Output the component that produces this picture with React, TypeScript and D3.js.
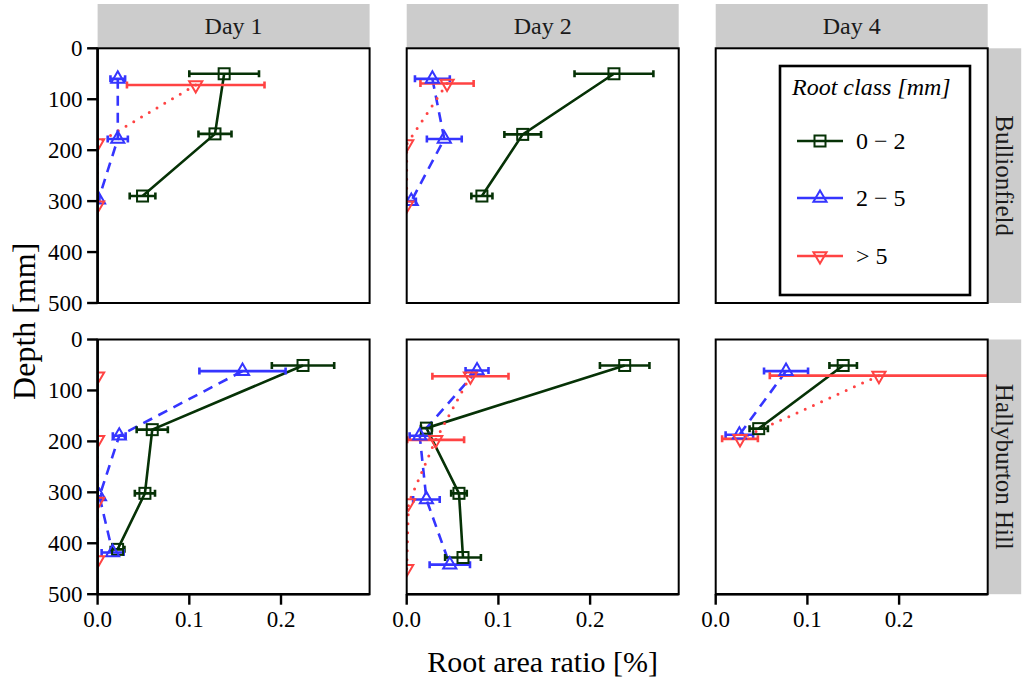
import React from "react";
import * as d3 from "d3";

const sites = ["Bullionfield", "Hallyburton Hill"];
const days = ["Day 1", "Day 2", "Day 4"];
const rootClasses = ["0 − 2", "2 − 5", "> 5"];
const xTicks = [0, 0.1, 0.2];
const yTicks = [0, 100, 200, 300, 400, 500];

// each row: [depth (mm), root area ratio (%), half-width of error bar]
type Obs = [number, number, number];

const bullionfieldDay1Fine: Obs[] = [[50, 0.138, 0.038], [168, 0.128, 0.018], [290, 0.049, 0.014]];
const bullionfieldDay1Medium: Obs[] = [[60, 0.022, 0.008], [178, 0.022, 0.011], [297, 0.001, 0.001]];
const bullionfieldDay1Coarse: Obs[] = [[72, 0.107, 0.075], [186, 0.0, 0.0], [308, 0.0, 0.0]];

const bullionfieldDay2Fine: Obs[] = [[50, 0.226, 0.043], [169, 0.1265, 0.02], [290, 0.082, 0.0115]];
const bullionfieldDay2Medium: Obs[] = [[60, 0.028, 0.019], [178, 0.041, 0.019], [300, 0.005, 0.005]];
const bullionfieldDay2Coarse: Obs[] = [[69, 0.044, 0.029], [188, 0.0, 0.0], [308, 0.0, 0.0]];

const bullionfieldDay4Fine: Obs[] = [];
const bullionfieldDay4Medium: Obs[] = [];
const bullionfieldDay4Coarse: Obs[] = [];

const hallyburtonDay1Fine: Obs[] = [[51, 0.224, 0.034], [177, 0.0596, 0.017], [302, 0.0516, 0.011], [412, 0.0218, 0.0075]];
const hallyburtonDay1Medium: Obs[] = [[62, 0.158, 0.047], [189, 0.0236, 0.007], [308, 0.002, 0.002], [418, 0.0164, 0.012]];
const hallyburtonDay1Coarse: Obs[] = [[72, 0.0, 0.0], [197, 0.0, 0.0], [318, 0.0, 0.0], [433, 0.0, 0.0]];

const hallyburtonDay2Fine: Obs[] = [[51, 0.2377, 0.027], [174, 0.0215, 0.006], [302, 0.057, 0.0085], [428, 0.0614, 0.0195]];
const hallyburtonDay2Medium: Obs[] = [[61, 0.0767, 0.0125], [189, 0.0142, 0.011], [314, 0.0215, 0.0145], [442, 0.047, 0.022]];
const hallyburtonDay2Coarse: Obs[] = [[72, 0.0695, 0.0415], [197, 0.0316, 0.031], [321, 0.002, 0.0], [450, 0.0, 0.0]];

const hallyburtonDay4Fine: Obs[] = [[51, 0.139, 0.015], [175, 0.0469, 0.01]];
const hallyburtonDay4Medium: Obs[] = [[62, 0.0767, 0.024], [187, 0.0258, 0.015]];
const hallyburtonDay4Coarse: Obs[] = [[71, 0.178, 0.119], [195, 0.0265, 0.0195]];

const panelData: Obs[][][][] = [
  [
    [bullionfieldDay1Fine, bullionfieldDay1Medium, bullionfieldDay1Coarse],
    [bullionfieldDay2Fine, bullionfieldDay2Medium, bullionfieldDay2Coarse],
    [bullionfieldDay4Fine, bullionfieldDay4Medium, bullionfieldDay4Coarse],
  ],
  [
    [hallyburtonDay1Fine, hallyburtonDay1Medium, hallyburtonDay1Coarse],
    [hallyburtonDay2Fine, hallyburtonDay2Medium, hallyburtonDay2Coarse],
    [hallyburtonDay4Fine, hallyburtonDay4Medium, hallyburtonDay4Coarse],
  ],
];

const COLORS = ["#063206", "#3535FF", "#FF4343"];
const DASHES = ["none", "10 7", "0 9"];
const FONT = '"Liberation Serif", "Times New Roman", Times, "DejaVu Serif", serif';

const W = 1023;
const H = 681;
const PW = 272;
const PH = 254.7;
const colLeft = [97.6, 406.7, 715.7];
const rowTop = [48.3, 339.5];
const X_MAX = 0.2966;

const textStyle = (size: number, italic = false): React.CSSProperties => ({
  fontFamily: FONT,
  fontSize: `${size}px`,
  fontStyle: italic ? "italic" : "normal",
});

function Marker({ k, x, y, color }: { k: number; x: number; y: number; color: string }) {
  if (k === 0) {
    const s = 11;
    return <rect x={x - s / 2} y={y - s / 2} width={s} height={s} fill="none" stroke={color} strokeWidth={2} />;
  }
  const r = 7.6;
  const hw = r * 0.866;
  const b = r / 2;
  if (k === 1) {
    const p = `M${x},${y - r}L${x + hw},${y + b}L${x - hw},${y + b}Z`;
    return <path d={p} fill="none" stroke={color} strokeWidth={2} />;
  }
  const p = `M${x},${y + r}L${x + hw},${y - b}L${x - hw},${y - b}Z`;
  return <path d={p} fill="none" stroke={color} strokeWidth={2} />;
}

function Panel({ row, col }: { row: number; col: number }) {
  const left = colLeft[col];
  const top = rowTop[row];
  const x = d3.scaleLinear().domain([0, X_MAX]).range([left, left + PW]);
  const y = d3.scaleLinear().domain([0, 500]).range([top, top + PH]);
  const series = panelData[row][col];
  const line = d3
    .line<Obs>()
    .x((d) => x(d[1]))
    .y((d) => y(d[0]));
  const clipId = `clip-${row}-${col}`;
  return (
    <g>
      <defs>
        <clipPath id={clipId}>
          <rect x={left} y={top} width={PW} height={PH} />
        </clipPath>
      </defs>
      <rect x={left} y={top} width={PW} height={PH} fill="#fff" />
      <g clipPath={`url(#${clipId})`}>
        {series.map((s, k) =>
          s.length > 1 ? (
            <path
              key={`l${k}`}
              d={line(s) || ""}
              fill="none"
              stroke={COLORS[k]}
              strokeWidth={k === 2 ? 3 : 2.6}
              strokeDasharray={DASHES[k]}
              strokeLinecap={k === 2 ? "round" : "butt"}
            />
          ) : null
        )}
        {series.map((s, k) =>
          s.map((d, i) =>
            d[2] > 0 ? (
              <g key={`e${k}-${i}`} stroke={COLORS[k]} strokeWidth={2.6}>
                <line x1={x(d[1] - d[2])} x2={x(d[1] + d[2])} y1={y(d[0])} y2={y(d[0])} />
                <line x1={x(d[1] - d[2])} x2={x(d[1] - d[2])} y1={y(d[0]) - 3.5} y2={y(d[0]) + 3.5} />
                <line x1={x(d[1] + d[2])} x2={x(d[1] + d[2])} y1={y(d[0]) - 3.5} y2={y(d[0]) + 3.5} />
              </g>
            ) : null
          )
        )}
        {series.map((s, k) =>
          s.map((d, i) => <Marker key={`m${k}-${i}`} k={k} x={x(d[1])} y={y(d[0])} color={COLORS[k]} />)
        )}
      </g>
      <rect x={left} y={top} width={PW} height={PH} fill="none" stroke="#000" strokeWidth={2} />
      {col === 0 &&
        yTicks.map((t) => (
          <g key={`yt${t}`}>
            <line x1={left - 10.5} x2={left} y1={y(t)} y2={y(t)} stroke="#000" strokeWidth={2.4} />
            <text x={left - 15} y={y(t)} dy="0.34em" textAnchor="end" style={textStyle(23)} fill="#000">
              {t}
            </text>
          </g>
        ))}
      {col === 0 && <line x1={left} x2={left} y1={top} y2={top + PH} stroke="#000" strokeWidth={2.6} />}
      {row === 1 &&
        xTicks.map((t) => (
          <g key={`xt${t}`}>
            <line x1={x(t)} x2={x(t)} y1={top + PH} y2={top + PH + 10.5} stroke="#000" strokeWidth={2.4} />
            <text x={x(t)} y={627} textAnchor="middle" style={textStyle(23)} fill="#000">
              {d3.format(".1f")(t)}
            </text>
          </g>
        ))}
      {row === 1 && <line x1={left} x2={left + PW} y1={top + PH} y2={top + PH} stroke="#000" strokeWidth={2.6} />}
    </g>
  );
}

function Legend() {
  const bx = 780;
  const by = 66;
  const rowsY = [141, 198, 256];
  return (
    <g>
      <rect x={bx} y={by} width={190} height={229} fill="#fff" stroke="#000" strokeWidth={2.6} />
      <text x={792} y={95} style={textStyle(24, true)} fill="#000">
        Root class [mm]
      </text>
      {rootClasses.map((c, k) => (
        <g key={c}>
          <line x1={797} x2={843} y1={rowsY[k]} y2={rowsY[k]} stroke={COLORS[k]} strokeWidth={2.6} />
          <Marker k={k} x={820} y={rowsY[k]} color={COLORS[k]} />
          <text x={856} y={rowsY[k]} dy="0.34em" style={textStyle(24)} fill="#000">
            {c}
          </text>
        </g>
      ))}
    </g>
  );
}

export default function App() {
  return (
    <svg
      width={W}
      height={H}
      viewBox={`0 0 ${W} ${H}`}
      style={{ position: "fixed", left: 0, top: 0, background: "#fff" }}
    >
      <rect x={0} y={0} width={W} height={H} fill="#fff" />
      {days.map((d, i) => (
        <g key={d}>
          <rect x={colLeft[i]} y={4} width={PW} height={rowTop[0] - 4} fill="#CCCCCC" />
          <text x={colLeft[i] + PW / 2} y={26} dy="0.34em" textAnchor="middle" style={textStyle(24)} fill="#1a1a1a">
            {d}
          </text>
        </g>
      ))}
      {sites.map((s, j) => (
        <g key={s}>
          <rect x={colLeft[2] + PW} y={rowTop[j]} width={33.5} height={PH} fill="#CCCCCC" />
          <text
            transform={`translate(${colLeft[2] + PW + 16.5},${rowTop[j] + PH / 2}) rotate(90)`}
            dy="0.34em"
            textAnchor="middle"
            style={textStyle(25)}
            fill="#1a1a1a"
          >
            {s}
          </text>
        </g>
      ))}
      {[0, 1].map((r) => [0, 1, 2].map((c) => <Panel key={`p${r}${c}`} row={r} col={c} />))}
      <Legend />
      <text
        x={(colLeft[0] + colLeft[2] + PW) / 2}
        y={672}
        textAnchor="middle"
        style={textStyle(30)}
        fill="#000"
      >
        Root area ratio [%]
      </text>
      <text
        transform={`translate(35,${(rowTop[0] + rowTop[1] + PH) / 2}) rotate(-90)`}
        textAnchor="middle"
        style={textStyle(32)}
        fill="#000"
      >
        Depth [mm]
      </text>
    </svg>
  );
}
